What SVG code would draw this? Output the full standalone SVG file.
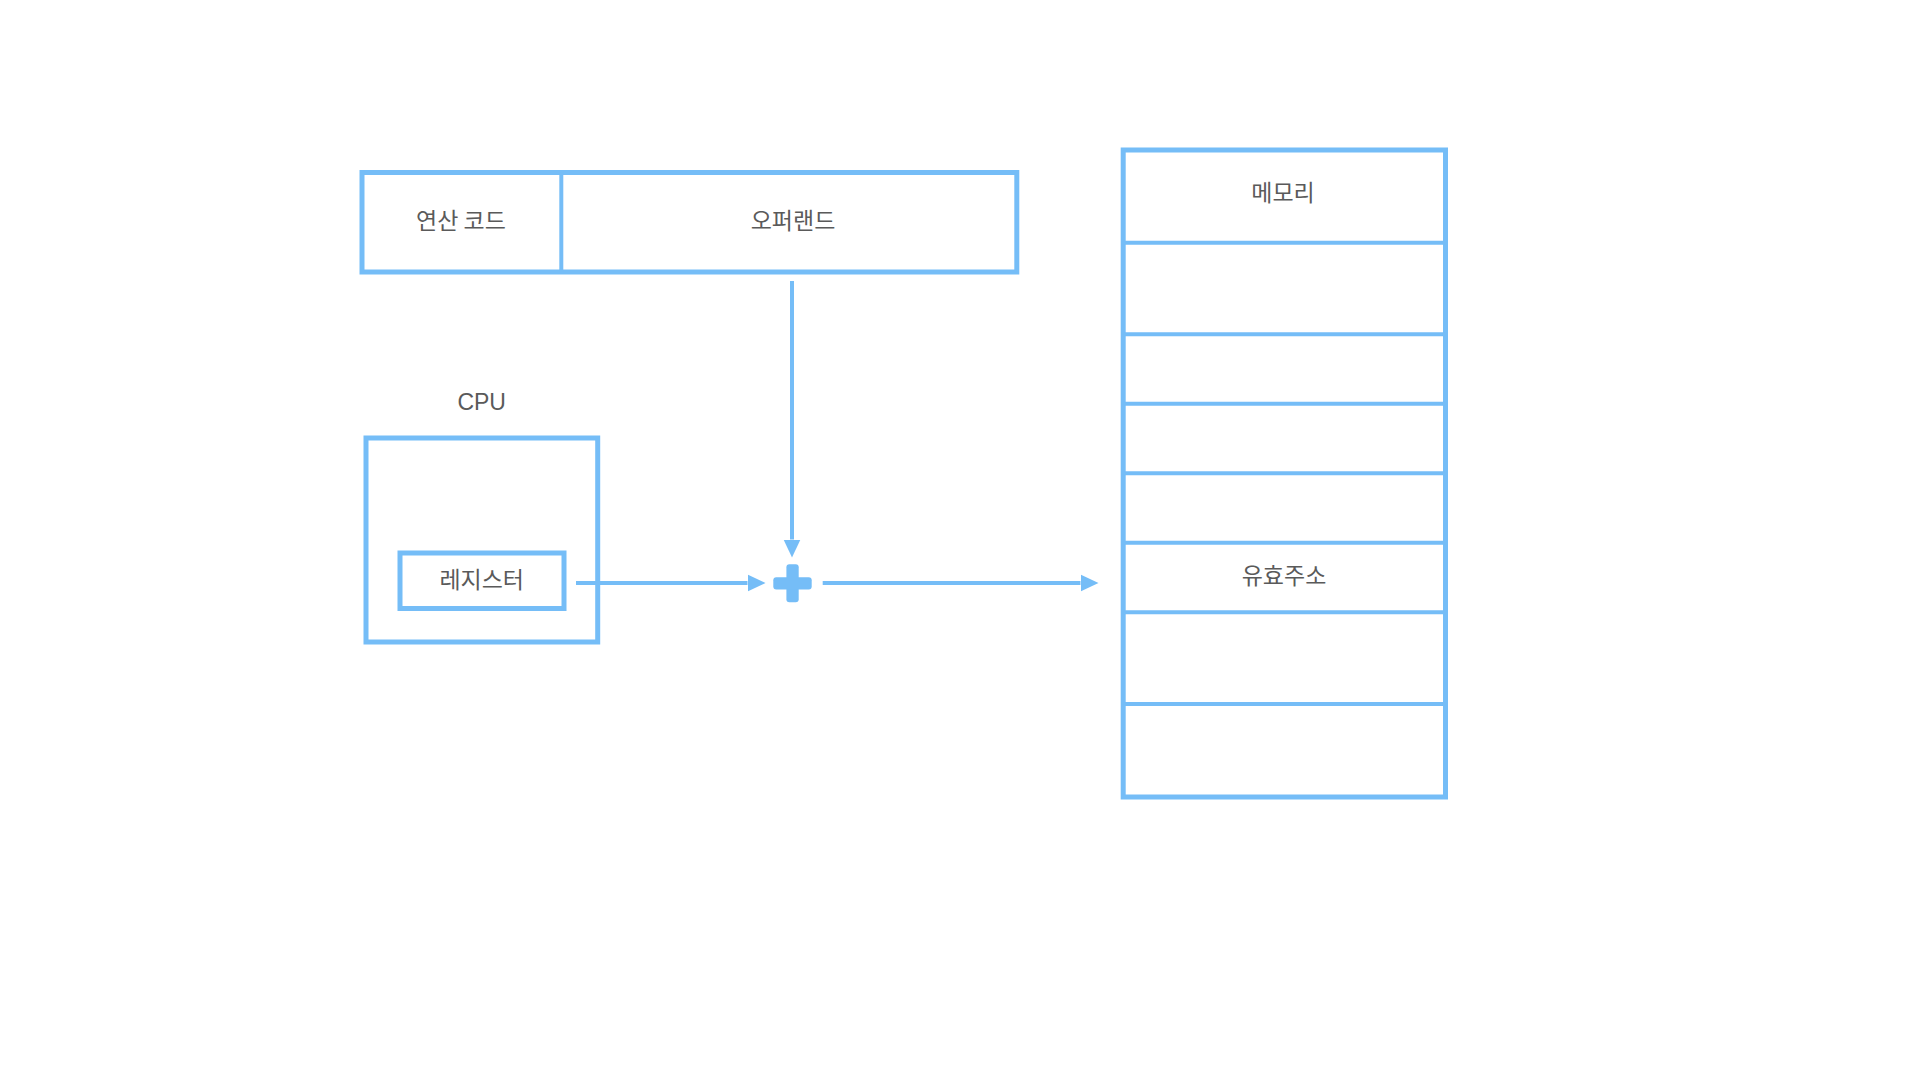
<svg xmlns="http://www.w3.org/2000/svg" width="1920" height="1080" viewBox="0 0 1920 1080">
<style>
.box{fill:none;stroke:#75bdf7;stroke-width:5}
.div{fill:none;stroke:#75bdf7;stroke-width:4}
.conn{fill:none;stroke:#75bdf7;stroke-width:4}
.t{font-family:"Noto Sans CJK KR","Noto Sans",sans-serif;font-size:23px;fill:#5a5a5a;text-anchor:middle}
.lat{font-family:"Liberation Sans",Arial,sans-serif;font-size:23px;fill:#5a5a5a;text-anchor:middle}
</style>
<defs>
<marker id="ah" markerUnits="userSpaceOnUse" markerWidth="18" markerHeight="18" refX="0" refY="8" orient="auto" viewBox="0 0 17 16">
<path d="M0,0 L17,8 L0,16 Z" fill="#75bdf7"/>
</marker>
</defs>
<rect width="1920" height="1080" fill="#ffffff"/>
<g id="instruction">
<rect class="box" x="362" y="172.5" width="654.8" height="99.5"/>
<line class="div" x1="561.3" y1="172.5" x2="561.3" y2="272"/>
<text class="t" x="461" y="228.5">연산 코드</text>
<text class="t" x="793" y="228.5">오퍼랜드</text>
</g>
<g id="cpu">
<text class="lat" x="481.7" y="410">CPU</text>
<rect class="box" x="366" y="438" width="231.7" height="204"/>
</g>
<g id="register">
<rect class="box" x="400" y="553" width="164" height="55.5"/>
<text class="t" x="481.7" y="588">레지스터</text>
</g>
<g id="adder">
<rect x="786.4" y="564.3" width="12.3" height="38" rx="3" fill="#75bdf7"/>
<rect x="773.3" y="577.2" width="38.4" height="12.3" rx="3" fill="#75bdf7"/>
</g>
<g id="memory">
<rect class="box" x="1123.2" y="150" width="322.3" height="647"/>
<line class="div" x1="1123.2" y1="242.7" x2="1445.5" y2="242.7"/>
<line class="div" x1="1123.2" y1="334.3" x2="1445.5" y2="334.3"/>
<line class="div" x1="1123.2" y1="403.7" x2="1445.5" y2="403.7"/>
<line class="div" x1="1123.2" y1="473.3" x2="1445.5" y2="473.3"/>
<line class="div" x1="1123.2" y1="542.7" x2="1445.5" y2="542.7"/>
<line class="div" x1="1123.2" y1="612.3" x2="1445.5" y2="612.3"/>
<line class="div" x1="1123.2" y1="704" x2="1445.5" y2="704"/>
<text class="t" x="1283" y="201">메모리</text>
<text class="t" x="1284" y="584">유효주소</text>
</g>
<g id="connectors">
<line class="conn" x1="792" y1="281" x2="792" y2="539.5" marker-end="url(#ah)"/>
<line class="conn" x1="576" y1="583" x2="747.5" y2="583" marker-end="url(#ah)"/>
<line class="conn" x1="822.7" y1="583" x2="1080.5" y2="583" marker-end="url(#ah)"/>
</g>
</svg>
